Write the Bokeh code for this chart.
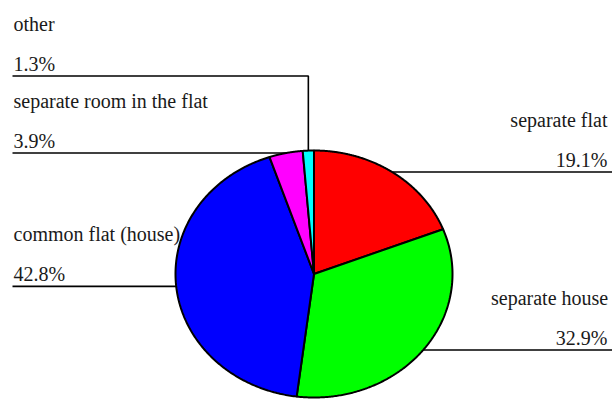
import numpy as np
from bokeh.plotting import figure
from bokeh.models import Range1d
from bokeh.core.properties import value
from bokeh.embed import file_html
from bokeh.resources import INLINE

# ---- data ----
categories = ["separate flat", "separate house", "common flat (house)",
              "separate room in the flat", "other"]
shares = [19.1, 32.9, 42.8, 3.9, 1.3]
pct_labels = ["19.1%", "32.9%", "42.8%", "3.9%", "1.3%"]
colors = ["#FF0000", "#00FF00", "#0000FF", "#FF00FF", "#00FFFF"]

# ---- layout (pixel space) ----
W, H = 612, 401
cx, cy, rx, ry = 313.5, 273.5, 138.5, 123.5
name_anchor = [607, 490.5, 13, 13, 13]
name_align = ["right", "left", "left", "left", "left"]
pct_anchor = [607, 607, 13, 13, 13]
pct_align = ["right", "right", "left", "left", "left"]

p = figure(width=W, height=H, output_backend="svg", toolbar_location=None,
           x_range=Range1d(0, W), y_range=Range1d(H, 0), min_border=0)
p.axis.visible = False
p.grid.visible = False
p.outline_line_color = None

fr = np.array(shares) / sum(shares)
ends = 90 - 360 * np.cumsum(fr)
starts = np.concatenate([[90.0], ends[:-1]])
mids = (starts + ends) / 2

mx = cx + rx * np.cos(np.radians(mids))
my = cy - ry * np.sin(np.radians(mids))

other_elbow_y = 75.5
line_xs, line_ys = [], []
ty_name, ty_pct = [], []
for i, cat in enumerate(categories):
    if mx[i] > cx:
        line_xs.append([mx[i], W])
        line_ys.append([my[i], my[i]])
        ly = my[i]
    elif cat == "other":
        line_xs.append([12, mx[i], mx[i]])
        line_ys.append([other_elbow_y, other_elbow_y, my[i]])
        ly = other_elbow_y
    else:
        line_xs.append([12, mx[i]])
        line_ys.append([my[i], my[i]])
        ly = my[i]
    ty_name.append(ly - 52)
    ty_pct.append(ly - 12)

xs, ys = [], []
for a0, a1 in zip(starts, ends):
    t = np.radians(np.linspace(a0, a1, 240))
    xs.append([cx] + list(cx + rx * np.cos(t)))
    ys.append([cy] + list(cy - ry * np.sin(t)))
p.patches(xs, ys, fill_color=colors, line_color="black", line_width=2)

p.multi_line(line_xs, line_ys, line_color="black", line_width=1.6)

for i in range(len(categories)):
    p.text(x=[name_anchor[i]], y=[ty_name[i]], text=[categories[i]],
           text_font=value("serif"), text_font_size="20px",
           text_align=name_align[i], text_color="#1a1a1a",
           text_baseline="alphabetic")
    p.text(x=[pct_anchor[i]], y=[ty_pct[i]], text=[pct_labels[i]],
           text_font=value("serif"), text_font_size="20px",
           text_align=pct_align[i], text_color="#1a1a1a",
           text_baseline="alphabetic")

open("out.html", "w").write(file_html(p, INLINE))
